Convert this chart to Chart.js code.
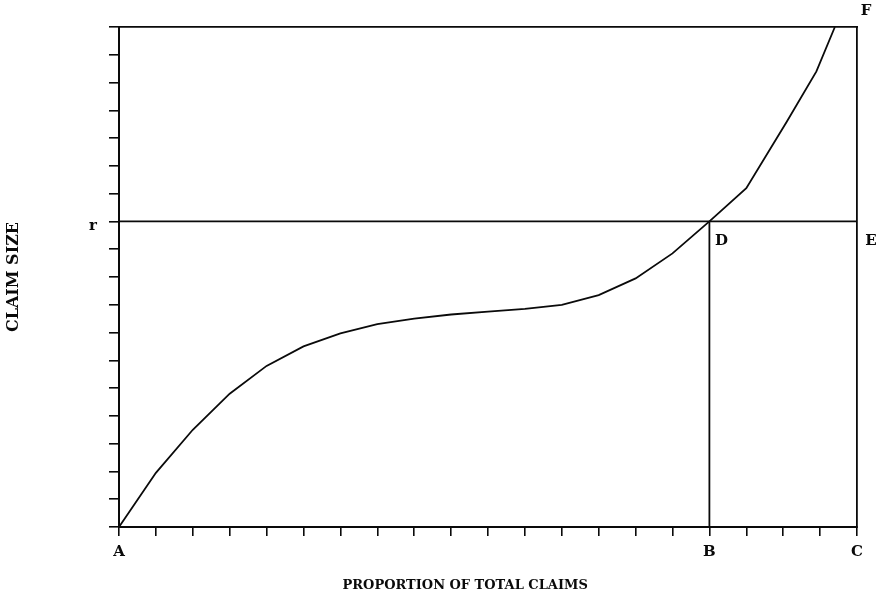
<!DOCTYPE html>
<html><head><meta charset="utf-8">
<script src="https://cdn.jsdelivr.net/npm/chart.js@4.4.1/dist/chart.umd.min.js"></script>
<style>html,body{margin:0;padding:0;background:#fff}#wrap{width:885px;height:597px;position:relative}</style>
</head><body><div id="wrap"><canvas id="c"></canvas></div>
<script>
// ---- data ----
const curveX = [0, 1, 2, 3, 4, 5, 6, 7, 8, 9, 10, 11, 12, 13, 14, 15, 16, 17, 18.1, 18.9, 19.4];
const curveY = [0, 1.95, 3.5, 4.8, 5.8, 6.5, 6.97, 7.3, 7.5, 7.65, 7.75, 7.85, 8.0, 8.35, 8.95, 9.85, 11, 12.2, 14.6, 16.4, 18];
const xMax = 20;
const yMax = 18;
const rLevel = 11;
const pointB = 16;
const xTickLabels = {0: 'A', 16: 'B', 20: 'C'};
const yTickLabels = {11: 'r'};
const pointLabels = ['D', 'E', 'F'];
const pointLabelX = [16, 20, 20];
const pointLabelY = [11, 11, 18];
const xTitle = 'PROPORTION OF TOTAL CLAIMS';
const yTitle = 'CLAIM SIZE';

// ---- build ----
const SERIF = '"DejaVu Serif", "Liberation Serif", serif';
const INK = '#0a0a0a';
const curve = curveX.map((x, i) => ({x: x, y: curveY[i]}));
const hLine = [{x: 0, y: rLevel}, {x: xMax, y: rLevel}];
const vLine = [{x: pointB, y: 0}, {x: pointB, y: rLevel}];
const labelOffsets = [[12, 20], [14, 20], [9, -16]];

const annot = {
  id: 'annot',
  afterDraw(chart) {
    const ctx = chart.ctx, xs = chart.scales.x, ys = chart.scales.y, ca = chart.chartArea;
    ctx.save();
    ctx.fillStyle = INK;
    ctx.font = 'bold 15px ' + SERIF;
    ctx.textAlign = 'center';
    ctx.textBaseline = 'middle';
    pointLabels.forEach((t, i) => {
      const px = xs.getPixelForValue(pointLabelX[i]) + labelOffsets[i][0];
      const py = ys.getPixelForValue(pointLabelY[i]) + labelOffsets[i][1];
      ctx.fillText(t, px, py);
    });
    ctx.font = 'bold 13px ' + SERIF;
    ctx.fillText(xTitle, ca.left + (ca.right - ca.left) * 0.469, 586);
    ctx.restore();
  }
};

new Chart(document.getElementById('c'), {
  type: 'scatter',
  data: {
    datasets: [
      {data: curve, showLine: true, borderColor: INK, borderWidth: 1.8, pointRadius: 0, tension: 0, clip: false},
      {data: hLine, showLine: true, borderColor: INK, borderWidth: 1.8, pointRadius: 0},
      {data: vLine, showLine: true, borderColor: INK, borderWidth: 1.8, pointRadius: 0}
    ]
  },
  options: {
    responsive: true,
    maintainAspectRatio: false,
    devicePixelRatio: 1,
    animation: false,
    events: [],
    layout: {padding: 0},
    plugins: {legend: {display: false}, tooltip: {enabled: false}, title: {display: false}},
    scales: {
      x: {
        type: 'linear', position: 'bottom', min: 0, max: xMax,
        afterFit(s) { s.height = 70; },
        grid: {display: true, drawOnChartArea: false, drawTicks: true, tickLength: 9, color: INK, tickColor: INK, lineWidth: 1.6},
        border: {display: true, color: INK, width: 2},
        ticks: {stepSize: 1, autoSkip: false, maxRotation: 0, padding: 7, color: INK,
          font: {family: SERIF, size: 15, weight: 'bold'},
          callback: (v) => xTickLabels[v] || ''}
      },
      y: {
        type: 'linear', position: 'left', min: 0, max: yMax,
        afterFit(s) { s.width = 119; },
        grid: {display: true, drawOnChartArea: false, drawTicks: true, tickLength: 10, color: INK, tickColor: INK, lineWidth: 1.6},
        border: {display: true, color: INK, width: 2},
        ticks: {stepSize: 1, autoSkip: false, padding: 12, labelOffset: 5, color: INK,
          font: {family: SERIF, size: 15, weight: 'bold'},
          callback: (v) => yTickLabels[v] || ''},
        title: {display: true, text: yTitle, color: INK, padding: {top: 4, bottom: 0},
          font: {family: SERIF, size: 16, weight: 'bold'}}
      },
      x2: {
        type: 'linear', position: 'top', min: 0, max: xMax,
        afterFit(s) { s.height = 27; },
        grid: {display: false},
        border: {display: true, color: INK, width: 1.8},
        ticks: {display: false}
      },
      y2: {
        type: 'linear', position: 'right', min: 0, max: yMax,
        afterFit(s) { s.width = 28; },
        grid: {display: false},
        border: {display: true, color: INK, width: 1.8},
        ticks: {display: false}
      }
    }
  },
  plugins: [annot]
});
</script>
</body></html>
